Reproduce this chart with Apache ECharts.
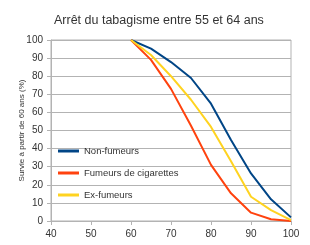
<!DOCTYPE html>
<html>
<head>
<meta charset="utf-8">
<script src="https://cdn.jsdelivr.net/npm/echarts@6/dist/echarts.min.js"></script>
<style>
  html, body { margin: 0; padding: 0; background: #fff; }
  #chart { width: 310px; height: 245px; }
</style>
</head>
<body>
<div id="chart"></div>
<script>
var ages = [60, 65, 70, 75, 80, 85, 90, 95, 100];
var nonFumeurs = [100, 95.2, 87.8, 79, 64.8, 44.8, 26.3, 12, 2];
var fumeurs = [100, 89, 73, 52.6, 31, 15.3, 4.6, 1, 0];
var exFumeurs = [100, 91.7, 80, 67, 52, 33, 13.4, 6, 0.5];

function pairs(vals) {
    return ages.map(function (a, i) { return [a, vals[i]]; });
}

var chart = echarts.init(document.getElementById('chart'));
var labelStyle = { color: '#333', fontSize: 10, fontFamily: 'Liberation Sans' };

var option = {
    animation: false,
    title: {
        text: 'Arrêt du tabagisme entre 55 et 64 ans',
        left: 49,
        top: 9,
        textStyle: { color: '#333', fontSize: 12.5, fontWeight: 'normal', fontFamily: 'Liberation Sans' }
    },
    grid: {
        left: 51, right: 19, top: 40, bottom: 24,
        show: true, borderColor: '#b3b3b3', borderWidth: 1
    },
    legend: {
        orient: 'vertical',
        left: 53,
        top: 140,
        icon: 'rect',
        itemWidth: 21,
        itemHeight: 3,
        itemGap: 10,
        textStyle: { color: '#333', fontSize: 9.5, fontFamily: 'Liberation Sans', lineHeight: 12 },
        data: ['Non-fumeurs', 'Fumeurs de cigarettes', 'Ex-fumeurs']
    },
    xAxis: {
        type: 'value',
        min: 40, max: 100, interval: 10,
        axisLine: { lineStyle: { color: '#b3b3b3' } },
        axisTick: { show: true, length: 4, lineStyle: { color: '#b3b3b3' } },
        axisLabel: labelStyle,
        splitLine: { show: false }
    },
    yAxis: {
        type: 'value',
        min: 0, max: 100, interval: 10,
        name: 'Survie à partir de 60 ans (%)',
        nameLocation: 'middle',
        nameGap: 25,
        nameMoveOverlap: false,
        nameTextStyle: { color: '#333', fontSize: 8, fontFamily: 'Liberation Sans' },
        axisLine: { show: true, lineStyle: { color: '#b3b3b3' } },
        axisTick: { show: true, length: 4, lineStyle: { color: '#b3b3b3' } },
        axisLabel: labelStyle,
        splitLine: { lineStyle: { color: '#b3b3b3' } }
    },
    series: [
        { name: 'Non-fumeurs', type: 'line', symbol: 'none', data: pairs(nonFumeurs),
          lineStyle: { color: '#004586', width: 2 }, itemStyle: { color: '#004586' } },
        { name: 'Fumeurs de cigarettes', type: 'line', symbol: 'none', data: pairs(fumeurs),
          lineStyle: { color: '#ff420e', width: 2 }, itemStyle: { color: '#ff420e' } },
        { name: 'Ex-fumeurs', type: 'line', symbol: 'none', data: pairs(exFumeurs),
          lineStyle: { color: '#ffd320', width: 2 }, itemStyle: { color: '#ffd320' } }
    ]
};

chart.setOption(option);
</script>
</body>
</html>
